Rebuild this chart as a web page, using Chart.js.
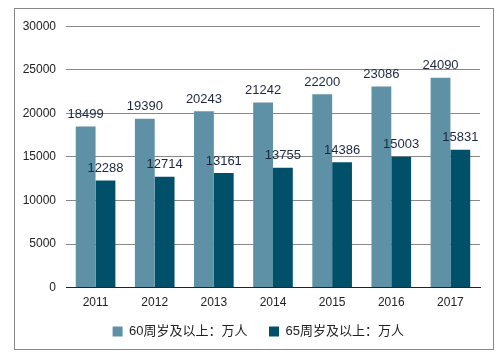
<!DOCTYPE html>
<html>
<head>
<meta charset="utf-8">
<script src="https://cdn.jsdelivr.net/npm/chart.js@4.4.0/dist/chart.umd.min.js"></script>
<style>
    html, body { margin: 0; padding: 0; background: #fff; }
    #box {
        position: absolute;
        left: 14px;
        top: 8px;
        width: 478px;
        height: 340px;
        border: 1px solid #888;
    }
</style>
</head>
<body>
<div id="box"><canvas id="chart" width="478" height="340"></canvas></div>
<script>
const years = ['2011', '2012', '2013', '2014', '2015', '2016', '2017']
const over60 = [18499, 19390, 20243, 21242, 22200, 23086, 24090]
const over65 = [12288, 12714, 13161, 13755, 14386, 15003, 15831]
const yTicks = [0, 5000, 10000, 15000, 20000, 25000, 30000]

const fontFamily = "'Liberation Sans', Arial, 'Noto Sans CJK SC', sans-serif"

// simple value labels above each bar
const barLabels = {
    id: 'barLabels',
    afterDatasetsDraw(chart) {
        const ctx = chart.ctx
        ctx.save()
        ctx.font = '13px ' + fontFamily
        ctx.fillStyle = '#1c2841'
        ctx.textAlign = 'center'
        ctx.textBaseline = 'middle'
        chart.data.datasets.forEach((ds, i) => {
            chart.getDatasetMeta(i).data.forEach((bar, j) => {
                ctx.fillText(ds.data[j].toString(), bar.x, bar.y - 12)
            })
        })
        ctx.restore()
    }
}

// legend sits a bit right of centre in the original
const legendShift = {
    id: 'legendShift',
    afterLayout(chart) {
        chart.legend.left += 18
        chart.legend.right += 18
    }
}

const ctx = document.getElementById('chart').getContext('2d')
const myChart = new Chart(ctx, {
    type: 'bar',
    data: {
        labels: years,
        datasets: [{
            label: '60周岁及以上：万人',
            data: over60,
            backgroundColor: '#5e90a6'
        }, {
            label: '65周岁及以上：万人',
            data: over65,
            backgroundColor: '#00506a'
        }]
    },
    options: {
        responsive: false,
        animation: false,
        datasets: {
            bar: {
                categoryPercentage: 0.67,
                barPercentage: 1.0
            }
        },
        layout: {
            padding: { left: 0, right: 13, top: 4, bottom: 1 }
        },
        plugins: {
            legend: {
                position: 'bottom',
                labels: {
                    boxWidth: 10,
                    boxHeight: 10,
                    padding: 7,
                    color: '#222',
                    font: { family: fontFamily, size: 13 },
                    // a little extra room after each entry
                    generateLabels(chart) {
                        const items = Chart.defaults.plugins.legend.labels.generateLabels(chart)
                        items.forEach(it => { it.text = it.text + '    ' })
                        return items
                    }
                }
            },
            tooltip: { enabled: false }
        },
        scales: {
            x: {
                grid: { display: false, drawTicks: false },
                border: { display: true, color: '#222', width: 1 },
                ticks: {
                    color: '#222',
                    padding: 8,
                    font: { family: fontFamily, size: 12 }
                }
            },
            y: {
                min: 0,
                max: 30000,
                afterBuildTicks(scale) {
                    scale.ticks = yTicks.map(v => ({ value: v }))
                },
                afterFit(scale) {
                    scale.width = 51
                },
                grid: { color: '#888', drawTicks: false },
                border: { display: false },
                ticks: {
                    color: '#222',
                    padding: 10,
                    font: { family: fontFamily, size: 12 },
                    callback: (v) => v.toString()
                }
            }
        }
    },
    plugins: [barLabels, legendShift]
})
</script>
</body>
</html>
